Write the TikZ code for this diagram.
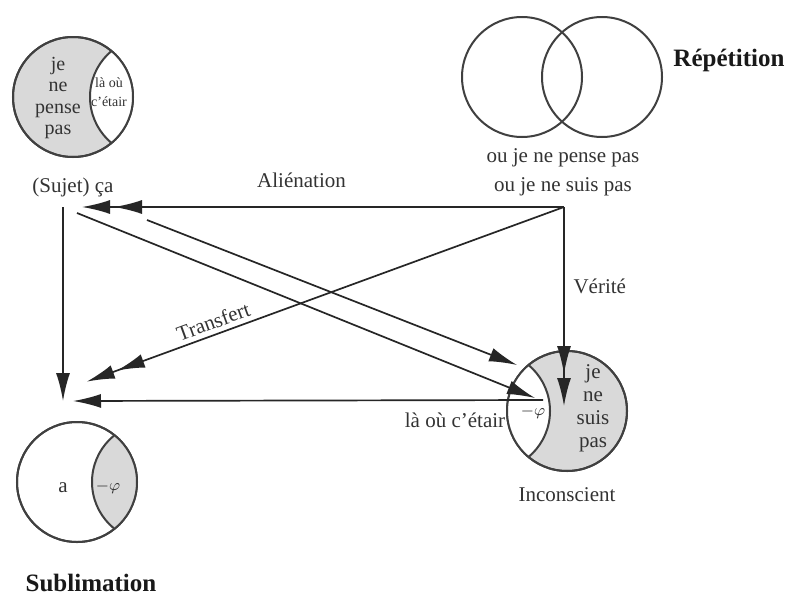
\documentclass[tikz,border=0pt]{standalone}
\usepackage{fontspec}
\setmainfont{Liberation Serif}
\usetikzlibrary{positioning, arrows.meta}

\begin{document}
\begin{tikzpicture}[
          x = 0.5pt, y = -0.5pt,
every node/.style = {text=black!80, font=\fontsize{10.5}{12}\selectfont},
       ring/.style = {circle, draw=black!75, line width=1pt, minimum size=60pt, inner sep=0pt},
     rimline/.style = {draw=black!75, line width=1pt},
      title/.style = {font=\bfseries\fontsize{12.5}{14}\selectfont, text=black!90},
       link/.style = {draw=black!85, line width=0.85pt},
        arr/.style = {link, -{Latex[length=14pt,width=7pt]}},
       darr/.style = {link, -{Latex[length=14pt,width=7pt,sep=2pt] Latex[length=14pt,width=7pt,sep=2pt]}}
                    ]
\useasboundingbox (0,0) rectangle (787,594);
\fill[white] (0,0) rectangle (787,594);

\node[ring, fill=gray!30] (sujet) at (73,97) {};
\begin{scope}
  \clip (sujet.center) circle (30pt);
  \fill[white] ([xshift=38.5pt]sujet.center) circle (30pt);
  \draw[rimline] ([xshift=38.5pt]sujet.center) circle (30pt);
\end{scope}
\draw[rimline] (sujet.center) circle (30pt);
\node[align=center, font=\fontsize{10}{10.8}\selectfont] (jnpp) at (58,98) {je\\ne\\pense\\pas};
\node[align=center, font=\fontsize{7}{9.5}\selectfont] (lao1) at (109,92) {là où\\c’étair};
\node (ca) at (73,187) {(Sujet) ça};

\node[ring] (rep1) at (522,77) {};
\node[ring] (rep2) at (602,77) {};
\node[title] (rep) at (729,60) {Répétition};
\node[align=center, font=\fontsize{10.5}{14.5}\selectfont] (ou) at (563,172) {ou je ne pense pas\\ou je ne suis pas};

\node[ring, fill=gray!30] (incs) at (567,411) {};
\begin{scope}
  \clip (incs.center) circle (30pt);
  \fill[white] ([xshift=-38.5pt]incs.center) circle (30pt);
  \draw[rimline] ([xshift=-38.5pt]incs.center) circle (30pt);
\end{scope}
\draw[rimline] (incs.center) circle (30pt);
\node[align=center, font=\fontsize{10.5}{11.5}\selectfont] (jnsp) at (593,408) {je\\ne\\suis\\pas};
\node[font=\fontsize{8}{9}\selectfont] (phi1) at (533,412) {$-\varphi$};
\node (incl) at (567,495) {Inconscient};
\node (lao2) at (455,420) {là où c’étair};

\node[ring] (subl) at (77,482) {};
\begin{scope}
  \clip (subl.center) circle (30pt);
  \fill[gray!30] ([xshift=37.5pt]subl.center) circle (30pt);
  \draw[rimline] ([xshift=37.5pt]subl.center) circle (30pt);
\end{scope}
\draw[rimline] (subl.center) circle (30pt);
\node (a) at (63,488) {a};
\node[font=\fontsize{8}{9}\selectfont] (phi2) at (108,487) {$-\varphi$};
\node[title] (sublt) at (91,583) {Sublimation};

\coordinate (corner) at (564,207);
\coordinate (caIn)   at (78,207);
\coordinate (caDown) at (63,207);
\coordinate (caOut1) at (77,213);
\coordinate (caOut2) at (147,220);
\coordinate (incTop) at (564,410);
\coordinate (incA)   at (535,398);
\coordinate (incB)   at (517,365);
\coordinate (incOut) at (543,400);
\coordinate (sublA)  at (63,401);
\coordinate (sublB)  at (83,383);
\coordinate (sublC)  at (73,401);

\draw[darr] (corner) -- node[pos=0.54, above=6pt] (alie) {Aliénation} (caIn);
\draw[darr] (corner) -- node[pos=0.39, right=1pt] (veri) {Vérité} (incTop);
\draw[darr] (corner) -- node[pos=0.72, above=-1pt, sloped] (trans) {Transfert} (sublB);
\draw[arr] (caDown) -- (sublA);
\draw[arr] (caOut1) -- (incA);
\draw[arr] (caOut2) -- (incB);
\draw[arr] (incOut) -- (sublC);
\end{tikzpicture}
\end{document}
